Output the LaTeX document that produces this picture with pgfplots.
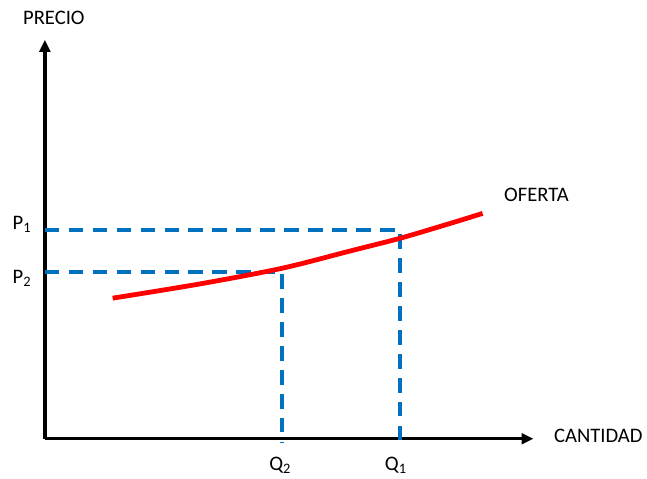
\documentclass[border=0pt]{standalone}
\usepackage{pgfplots}
\pgfplotsset{compat=1.18}
\usepackage{fontspec}
\setmainfont{Carlito}
\usetikzlibrary{arrows.meta}
\definecolor{dashblue}{RGB}{0,112,192}
\definecolor{curvered}{RGB}{255,0,0}
\begin{document}
\begin{tikzpicture}
\begin{axis}[
  x=0.75pt, y=0.75pt,
  xmin=0, xmax=490, ymin=0, ymax=400,
  axis lines=left,
  axis line style={line width=2.6pt, black, -{Triangle[length=9pt,width=8pt]}},
  xtick=\empty, ytick=\empty,
  clip=false,
  font=\fontsize{15.5}{18}\selectfont,
]
% invisible frame for picture size
\path (axis cs:-45,-39) rectangle (axis cs:602,440);
% dashed guides
\addplot[dashblue, line width=2.9pt, dash pattern=on 11pt off 7pt] coordinates {(0,209) (356,209) (356,-4)};
\addplot[dashblue, line width=2.9pt, dash pattern=on 11pt off 7pt] coordinates {(0,167) (238,167) (238,-4)};
% supply curve
\addplot[curvered, line width=3.6pt, smooth] coordinates {
 (68,141) (155,155.2) (238,171) (305,188) (356,201) (405,215.5) (439,226)};
% labels
\node at (axis cs:9,422) {PRECIO};
\node[anchor=west] at (axis cs:506,3) {CANTIDAD};
\node at (axis cs:493,245) {OFERTA};
\node at (axis cs:-23,215) {P\textsubscript{1}};
\node at (axis cs:-23,161) {P\textsubscript{2}};
\node at (axis cs:236,-27) {Q\textsubscript{2}};
\node at (axis cs:352,-27) {Q\textsubscript{1}};
\end{axis}
\end{tikzpicture}
\end{document}
